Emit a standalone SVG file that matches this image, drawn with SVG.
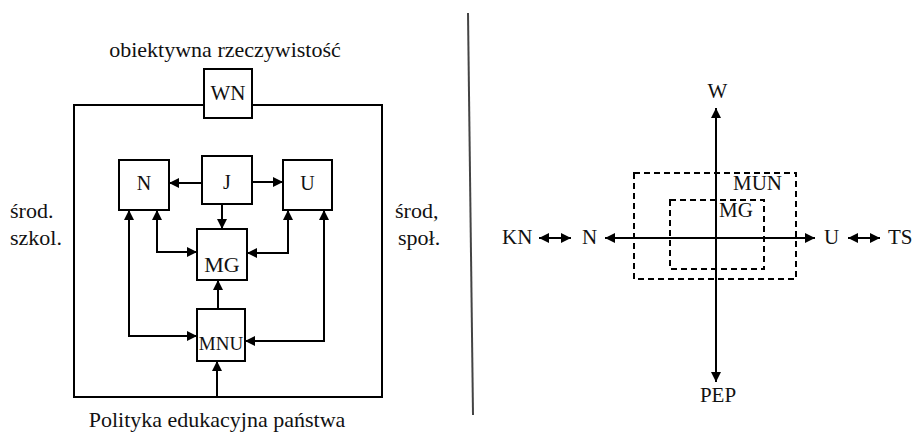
<svg xmlns="http://www.w3.org/2000/svg" width="915" height="433" viewBox="0 0 915 433">
<defs>
<marker id="ah" viewBox="0 0 10 10" refX="10" refY="5" markerWidth="10" markerHeight="10" markerUnits="userSpaceOnUse" orient="auto-start-reverse">
<path d="M0,0 L10,5 L0,10 z" fill="#000"/>
</marker>
</defs>
<style>
text{font-family:"Liberation Serif","Times New Roman",serif;fill:#111}
.box{fill:#fff;stroke:#000;stroke-width:2}
.ln{fill:none;stroke:#000;stroke-width:2}
.a1{marker-end:url(#ah)}
.a2{marker-start:url(#ah);marker-end:url(#ah)}
.dash{fill:none;stroke:#000;stroke-width:2;stroke-dasharray:6,4}
.lbl{font-size:22px}
.rl{font-size:21px}
.c{text-anchor:middle}
</style>
<rect width="915" height="433" fill="#fff"/>
<!-- left diagram -->
<g id="frame"><rect x="74" y="105" width="308" height="292" class="ln"/></g>
<text class="lbl c" x="225" y="57">obiektywna rzeczywistość</text>
<text class="lbl c" x="217" y="427">Polityka edukacyjna państwa</text>
<text class="lbl" x="10" y="218">środ.</text>
<text class="lbl" x="10" y="245">szkol.</text>
<text class="lbl" x="395" y="218">środ,</text>
<text class="lbl" x="398" y="245">społ.</text>
<g id="connectors">
<path class="ln a1" d="M203,183 H169"/>
<path class="ln a1" d="M251,182 H283"/>
<path class="ln a1" d="M222,204 V229"/>
<path class="ln a2" d="M157,210 V252 H197"/>
<path class="ln a2" d="M129,210 V336 H197"/>
<path class="ln a2" d="M288,210 V253 H247"/>
<path class="ln a2" d="M324,210 V341 H245"/>
<path class="ln a1" d="M218,309 V280"/>
<path class="ln a1" d="M217,397 V361"/>
<path class="ln a2" d="M716,108 V382"/>
<path class="ln a2" d="M605,238 H815"/>
<path class="ln a2" d="M539,238 H571"/>
<path class="ln a2" d="M848,238 H880"/>
</g>
<g id="WN"><rect class="box" x="204" y="69" width="48" height="49"/><text class="c" style="font-size:21px" x="228" y="100">WN</text></g>
<g id="N"><rect class="box" x="119" y="160" width="50" height="50"/><text class="c" style="font-size:20px" x="144" y="190">N</text></g>
<g id="J"><rect class="box" x="202" y="156" width="50" height="48"/><text class="c" style="font-size:20px" x="227" y="189">J</text></g>
<g id="U"><rect class="box" x="283" y="160" width="49" height="50"/><text class="c" style="font-size:20px" x="307.5" y="190">U</text></g>
<g id="MG"><rect class="box" x="197" y="229" width="50" height="51"/><text class="c" style="font-size:22px" x="222" y="272">MG</text></g>
<g id="MNU"><rect class="box" x="197" y="309" width="48" height="52"/><text class="c" style="font-size:19px" x="221" y="350">MNU</text></g>
<!-- divider -->
<line x1="468" y1="13" x2="473" y2="415" stroke="#444" stroke-width="2"/>
<!-- right diagram -->
<g id="MUN-area"><rect class="dash" x="634" y="173" width="162" height="106"/><text class="rl" x="733" y="190">MUN</text></g>
<g id="MG-area"><rect class="dash" x="670" y="200" width="94" height="69"/><text class="rl" x="719" y="217">MG</text></g>
<g id="W"><text class="rl c" x="717.5" y="98">W</text></g>
<g id="PEP"><text class="rl c" x="718" y="402">PEP</text></g>
<g id="KN"><text class="rl" x="502" y="244">KN</text></g>
<g id="N2"><text class="rl" x="582" y="244">N</text></g>
<g id="U2"><text class="rl" x="824" y="244">U</text></g>
<g id="TS"><text class="rl" x="888" y="244">TS</text></g>
</svg>
